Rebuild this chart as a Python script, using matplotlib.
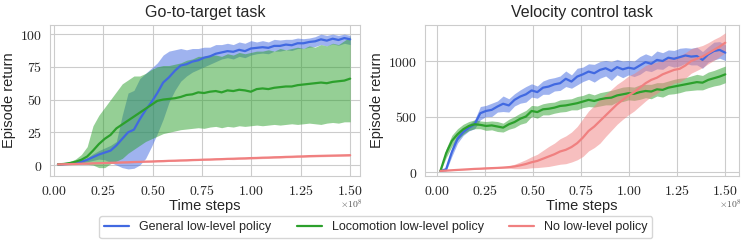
import numpy as np
import matplotlib
matplotlib.use("Agg")
import matplotlib.pyplot as plt
import seaborn as sns
from matplotlib.ticker import FuncFormatter

sns.set_style("whitegrid")
plt.rcParams["font.family"] = ["Liberation Sans", "DejaVu Sans"]
plt.rcParams["mathtext.fontset"] = "cm"

# time steps (x 1e8), shared by every curve
steps = np.linspace(0.02, 1.5, 51)

# ---- Go-to-target task ----
gt_general = [0.5, 0.6, 0.9, 1.5, 2.5, 4, 6, 8, 9.5, 11,
              15, 20, 25, 27, 35, 42, 48, 55, 63, 67,
              72, 76, 77, 79, 80, 82, 83, 85, 86, 87,
              86.5, 88, 87, 89, 89.5, 90, 89.5, 91, 91, 92,
              91.5, 93, 93, 94, 94.5, 96, 95, 96.5, 95.5, 97, 96]
gt_general_lo = [0.3, 0.4, 0.6, 1, 1.5, 2.5, 3.5, 4.5, 4, 2,
                 0, -2, -3, -2.5, 0, 5, 14, 24, 35, 48,
                 57, 64, 68, 71, 73, 75, 77, 79, 81, 82,
                 81, 83, 82, 84, 85, 85.5, 85, 87, 87, 88,
                 87.5, 89, 89, 90, 90.5, 92, 91, 92.5, 91.5, 93, 92]
gt_general_hi = [0.7, 0.8, 1.2, 2, 3.5, 5.5, 8.5, 11, 13, 15,
                 18, 38, 55, 57, 66, 70, 74, 78, 84, 87,
                 88, 89, 88, 89, 89, 90, 90, 92, 92, 93,
                 92, 94, 93, 95, 94, 95, 94, 96, 95.5, 96,
                 96, 97, 96.5, 97, 98, 100, 99, 100, 99, 100, 99]

gt_loco = [0.5, 0.8, 1.5, 2.5, 4, 6.5, 11, 16, 20, 23,
           28, 31, 34, 37, 40, 43, 46, 49, 50, 50.5,
           51, 52, 53.5, 54, 55.5, 55, 56, 56.5, 55.5, 57,
           56.5, 57.5, 57, 56, 58, 58.5, 58, 59, 59.5, 60,
           60, 61, 61.5, 62, 62.5, 63, 62.5, 63.5, 64, 64.5, 66]
gt_loco_lo = [0.2, 0.3, 0.3, 0.5, 0.8, 0.5, 0, -2, -2, 1,
              3, 5, 9, 12, 15, 18, 20, 22, 24, 25,
              26, 27, 27.5, 28, 28.5, 28, 29, 29.5, 28.5, 29.5,
              29, 30, 29.5, 30, 30.5, 30, 30.5, 31, 30.5, 31,
              31.5, 31, 31.5, 32, 31.5, 31, 32, 32.5, 32, 33, 33]
gt_loco_hi = [0.8, 1.2, 2.5, 4.5, 8, 14, 30, 38, 44, 50,
              56, 62, 65, 68, 68, 70, 73, 75, 76, 76,
              77, 78, 80, 81, 83, 83, 84, 84, 83, 85,
              84, 86, 85, 86, 87, 87, 88, 87, 89, 88,
              89, 90, 89, 91, 90, 92, 91, 93, 92, 95, 98]

gt_none = [0.5, 0.6, 0.7, 0.8, 1.0, 1.1, 1.3, 1.4, 1.5, 1.7,
           1.8, 2.0, 2.1, 2.3, 2.4, 2.6, 2.7, 2.9, 3.0, 3.2,
           3.3, 3.5, 3.6, 3.8, 3.9, 4.1, 4.2, 4.4, 4.5, 4.7,
           4.8, 5.0, 5.1, 5.3, 5.4, 5.6, 5.7, 5.9, 6.0, 6.2,
           6.3, 6.5, 6.6, 6.8, 6.9, 7.0, 7.1, 7.2, 7.3, 7.4, 7.5]
gt_none_sd = [0.3] * 10 + [0.5] * 20 + [0.7] * 21

# ---- Velocity control task ----
vc_general = [10, 25, 180, 300, 360, 400, 430, 530, 550, 560,
              590, 615, 600, 650, 680, 700, 735, 720, 760, 770,
              790, 800, 840, 815, 860, 880, 905, 890, 920, 935,
              910, 945, 925, 940, 930, 960, 990, 975, 1010, 1000,
              1030, 1020, 1035, 1050, 1040, 1045, 1010, 1060, 1090, 1100, 1075]
vc_general_sd = [5, 15, 40, 40, 30, 30, 40, 60, 50, 60,
                 50, 70, 60, 55, 60, 70, 60, 55, 60, 70,
                 60, 65, 70, 60, 75, 65, 70, 80, 75, 70,
                 85, 70, 75, 65, 70, 80, 75, 70, 80, 75,
                 70, 75, 80, 70, 75, 80, 75, 70, 80, 75, 70]

vc_loco = [10, 170, 280, 340, 385, 415, 430, 425, 415, 420,
           410, 400, 430, 450, 480, 500, 550, 540, 565, 570,
           580, 595, 600, 610, 620, 635, 650, 640, 655, 665,
           670, 690, 700, 710, 705, 720, 730, 725, 745, 740,
           760, 770, 780, 790, 800, 810, 805, 830, 845, 860, 880]
vc_loco_sd = [5, 40, 50, 50, 45, 40, 40, 35, 40, 40,
              45, 40, 45, 50, 50, 55, 50, 55, 50, 55,
              50, 55, 55, 50, 60, 55, 60, 55, 60, 60,
              65, 60, 65, 60, 60, 65, 60, 65, 60, 65,
              60, 65, 65, 60, 65, 70, 65, 70, 70, 75, 75]

vc_none = [10, 13, 16, 19, 22, 25, 28, 30, 33, 35,
           37, 40, 44, 50, 60, 72, 88, 100, 120, 140,
           160, 185, 200, 225, 260, 310, 370, 410, 460, 510,
           560, 610, 650, 690, 720, 760, 800, 830, 850, 880,
           900, 920, 930, 960, 1000, 1020, 1040, 1070, 1100, 1130, 1165]
vc_none_sd = [3, 3, 3, 3, 3, 4, 4, 4, 5, 5,
              5, 6, 10, 20, 30, 40, 50, 60, 75, 90,
              100, 115, 125, 135, 150, 170, 180, 190, 200, 190,
              185, 180, 175, 175, 170, 165, 160, 150, 140, 135,
              130, 120, 120, 115, 110, 105, 100, 95, 95, 90, 90]

labels = ["General low-level policy", "Locomotion low-level policy", "No low-level policy"]
colors = ["royalblue", "#2ca02c", "lightcoral"]


def band(mean, sd):
    m = np.array(mean, dtype=float)
    s = np.array(sd, dtype=float)
    return m - s, m + s


fig = plt.figure(figsize=(7.47, 2.47), dpi=100)
ax1 = fig.add_axes([0.067, 0.2874, 0.415, 0.6116])
ax2 = fig.add_axes([0.569, 0.2874, 0.420, 0.6116])

gt_series = [
    (gt_general, gt_general_lo, gt_general_hi),
    (gt_loco, gt_loco_lo, gt_loco_hi),
    (gt_none,) + band(gt_none, gt_none_sd),
]
vc_series = [
    (vc_general,) + band(vc_general, vc_general_sd),
    (vc_loco,) + band(vc_loco, vc_loco_sd),
    (vc_none,) + band(vc_none, vc_none_sd),
]

handles = []
for (mean, lo, hi), c, lab in zip(gt_series, colors, labels):
    ax1.fill_between(steps, lo, hi, color=c, alpha=0.5, linewidth=0)
    h, = ax1.plot(steps, mean, color=c, lw=1.6, label=lab)
    handles.append(h)
for (mean, lo, hi), c in zip(vc_series, colors):
    ax2.fill_between(steps, lo, hi, color=c, alpha=0.5, linewidth=0)
    ax2.plot(steps, mean, color=c, lw=1.6)

ax1.set_xlim(-0.02, 1.55)
ax1.set_ylim(-8.4, 107)
ax1.set_yticks([0, 25, 50, 75, 100])
ax1.set_title("Go-to-target task", fontsize=11.5)

ax2.set_xlim(-0.06, 1.57)
ax2.set_ylim(-36, 1325)
ax2.set_yticks([0, 500, 1000])
ax2.set_title("Velocity control task", fontsize=11.5)

xfmt = FuncFormatter(lambda v, p: f"${v:.2f}$")
yfmt = FuncFormatter(lambda v, p: f"${v:.0f}$")
for ax in (ax1, ax2):
    ax.set_xticks([0, 0.25, 0.5, 0.75, 1.0, 1.25, 1.5])
    ax.xaxis.set_major_formatter(xfmt)
    ax.yaxis.set_major_formatter(yfmt)
    ax.tick_params(labelsize=10, pad=2)
    ax.set_xlabel("Time steps", fontsize=10.5, labelpad=1)
    ax.set_ylabel("Episode return", fontsize=10.5, labelpad=3)
    # offset marker for the x axis scale
    ax.text(1.01, -0.19, r"$\times10^{8}$", transform=ax.transAxes,
            ha="right", va="center", fontsize=7, color="#555555")

fig.legend(handles=handles, loc="center", bbox_to_anchor=(0.503, 0.079),
           ncol=3, fontsize=9, frameon=True, handlelength=2.0,
           columnspacing=2.0, borderpad=0.4)

fig.savefig("out.png", dpi=100)
